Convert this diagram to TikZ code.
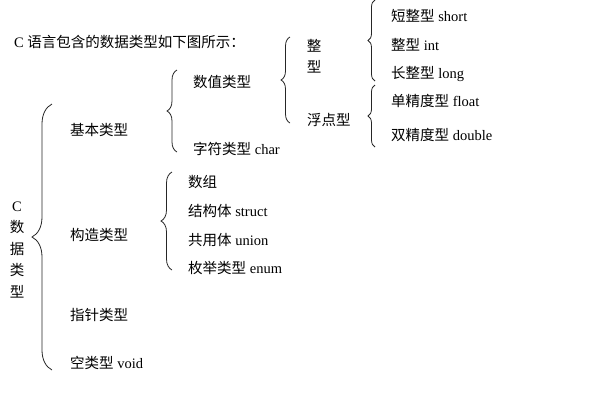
\documentclass[tikz,border=0pt]{standalone}
\usepackage{fontspec}
\setmainfont{Liberation Serif}
\newfontfamily\cjk{Noto Sans CJK SC}
\usetikzlibrary{decorations.pathreplacing,positioning}
\definecolor{inkgray}{HTML}{262626}
\newcommand{\zh}[1]{{\cjk #1}}

\begin{document}
\begin{tikzpicture}[
    x=1pt, y=-1pt,
    typestyle/.style={anchor=west, inner sep=0pt, text=black, font=\fontsize{14.5}{17}\selectfont, text height=12.8pt, text depth=1.7pt},
    vertstyle/.style={anchor=center, align=center, inner sep=0pt, text=black, font=\fontsize{14.5}{#1}\selectfont},
    bracestyle/.style={draw=inkgray, line width=0.8pt, decorate, decoration={brace, amplitude=#1}}
  ]
  \useasboundingbox (0,0) rectangle (600,400);

  \node[typestyle] (TITLE) at (14,42) {C \zh{语言包含的数据类型如下图所示：}};

  % root
  \node[vertstyle=21.5] (CTYPE) at (17,250) {C\\\zh{数}\\\zh{据}\\\zh{类}\\\zh{型}};

  % first level
  \node[typestyle] (BASIC) at (70,130) {\zh{基本类型}};
  \node[typestyle] (BUILT) at (70,235) {\zh{构造类型}};
  \node[typestyle] (POINTER) at (70,315) {\zh{指针类型}};
  \node[typestyle] (VOID) at (70,363) {\zh{空类型} void};

  % second level
  \node[typestyle] (NUMERIC) at (193,82) {\zh{数值类型}};
  \node[typestyle] (CHAR) at (193,149) {\zh{字符类型} char};
  \node[typestyle] (ARRAY) at (188,182) {\zh{数组}};
  \node[typestyle] (STRUCT) at (188,211) {\zh{结构体} struct};
  \node[typestyle] (UNION) at (188,240) {\zh{共用体} union};
  \node[typestyle] (ENUM) at (188,268) {\zh{枚举类型} enum};

  % third level
  \node[vertstyle=21] (INTEGER) at (314,56) {\zh{整}\\\zh{型}};
  \node[typestyle] (FLOATING) at (307,120) {\zh{浮点型}};

  % fourth level
  \node[typestyle] (SHORT) at (391,16) {\zh{短整型} short};
  \node[typestyle] (INT) at (391,45) {\zh{整型} int};
  \node[typestyle] (LONG) at (391,73) {\zh{长整型} long};
  \node[typestyle] (SINGLE) at (391,101) {\zh{单精度型} float};
  \node[typestyle] (DOUBLE) at (391,135) {\zh{双精度型} double};

  % brace ends
  \coordinate (ROOTTOP) at (52,104);
  \coordinate (ROOTBOT) at (52,370);
  \coordinate (BASICTOP) at (177,70);
  \coordinate (BASICBOT) at (177,152);
  \coordinate (NUMTOP) at (290,37);
  \coordinate (NUMBOT) at (290,123);
  \coordinate (INTTOP) at (375,0);
  \coordinate (INTBOT) at (375,81);
  \coordinate (FLTTOP) at (375,85);
  \coordinate (FLTBOT) at (375,147);
  \coordinate (BUILTTOP) at (172,172);
  \coordinate (BUILTBOT) at (172,270);

  \draw[bracestyle=20] (ROOTBOT) -- (ROOTTOP);
  \draw[bracestyle=10] (BASICBOT) -- (BASICTOP);
  \draw[bracestyle=9] (NUMBOT) -- (NUMTOP);
  \draw[bracestyle=7] (INTBOT) -- (INTTOP);
  \draw[bracestyle=7] (FLTBOT) -- (FLTTOP);
  \draw[bracestyle=11] (BUILTBOT) -- (BUILTTOP);
\end{tikzpicture}
\end{document}
